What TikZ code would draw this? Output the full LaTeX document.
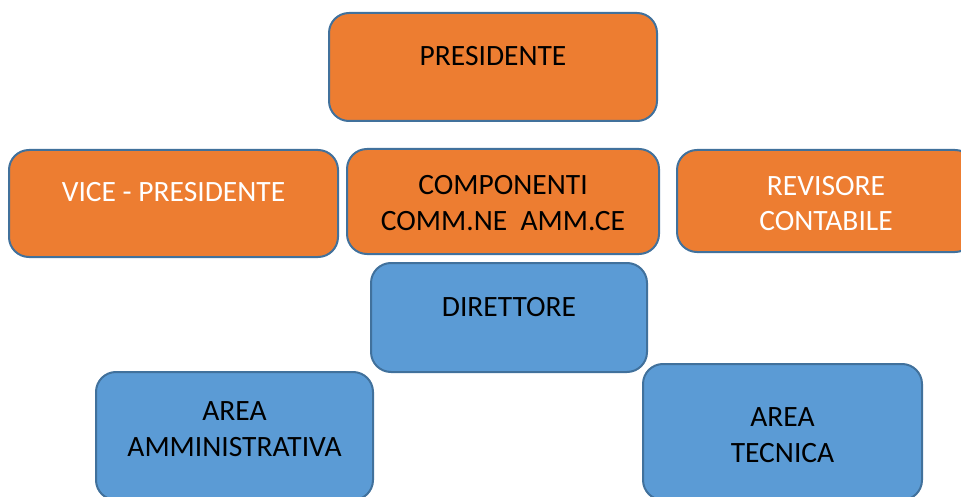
\documentclass[tikz,border=0pt]{standalone}
\usepackage{fontspec}
\setmainfont{Carlito}
\usepackage{tikz}
\usetikzlibrary{positioning,calc}
\definecolor{orgfill}{HTML}{ED7D31}
\definecolor{bluefill}{HTML}{5B9BD5}
\definecolor{boxline}{HTML}{41719C}
\tikzset{
  box/.style={draw=boxline, line width=2pt, rounded corners=20pt, inner sep=0pt},
  orgbox/.style={box, fill=orgfill},
  bluebox/.style={box, fill=bluefill},
  lbl/.style={align=center, inner sep=0pt, font=\fontsize{29.5}{35.5}\selectfont},
}

\begin{document}
\begin{tikzpicture}[x=1pt, y=-1pt]
\useasboundingbox (0,0) rectangle (961,497);

% --- orange boxes (board) ---
\node (pres) [orgbox, minimum width=328pt, minimum height=108pt] at (493,67) {};
\node (vice) [orgbox, minimum width=329pt, minimum height=107pt] at (173.5,203.5) {};
\node (comp) [orgbox, minimum width=312pt, minimum height=105pt] at (503,201.5) {};
\node (rev)  [orgbox, minimum width=298pt, minimum height=102pt] at (826,201) {};

% --- blue boxes (staff) ---
\node (dir) [bluebox, minimum width=276pt, minimum height=109pt] at (509,317.5) {};
\node (amm) [bluebox, minimum width=277pt, minimum height=128pt] at (234.5,436) {};
\node (tec) [bluebox, minimum width=279pt, minimum height=136pt] at (782.5,432) {};

% --- texts ---
\node (presT) [lbl] at ($(pres)+(0,-11)$) {PRESIDENTE};
\node (viceT) [lbl, text=white] at ($(vice)+(0,-11.5)$) {VICE - PRESIDENTE};
\node (compT) [lbl] at ($(comp)+(0,1.5)$) {COMPONENTI\\COMM.NE\ \ AMM.CE};
\node (revT)  [lbl, text=white] at ($(rev)+(0,2.5)$) {REVISORE\\CONTABILE};
\node (dirT)  [lbl] at ($(dir)+(0,-10.5)$) {DIRETTORE};
\node (ammT)  [lbl] at ($(amm)+(0,-7)$) {AREA\\AMMINISTRATIVA};
\node (tecT)  [lbl] at ($(tec)+(0,3)$) {AREA\\TECNICA};

\end{tikzpicture}
\end{document}
